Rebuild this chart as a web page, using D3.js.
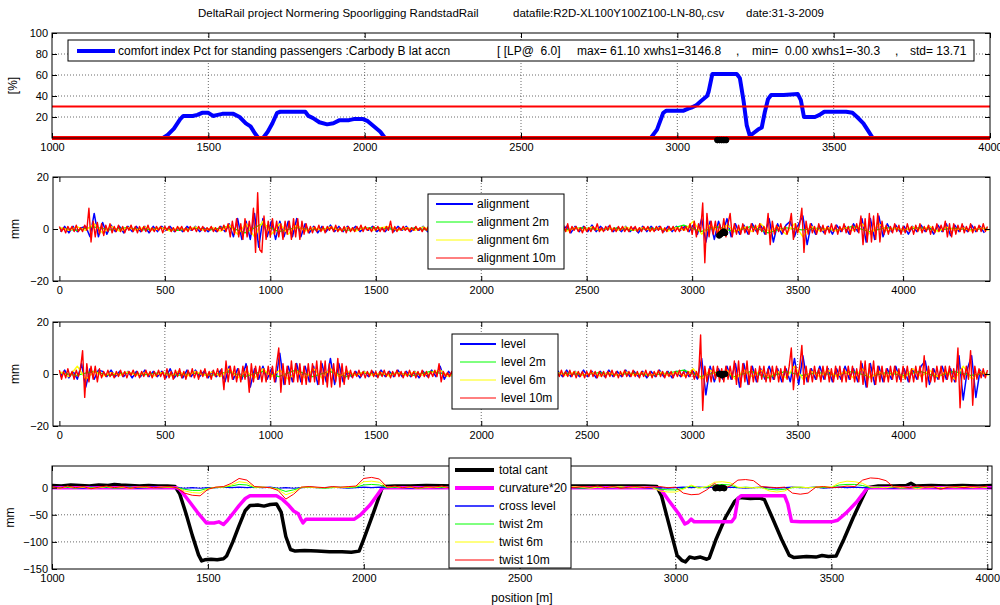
<!DOCTYPE html>
<html>
<head>
<meta charset="utf-8">
<script src="https://cdn.jsdelivr.net/npm/d3@7"></script>
<style>
body { margin: 0; background: #fff; }
text { font-family: "Liberation Sans", Arial, sans-serif; fill: #000; }
</style>
</head>
<body>
<div id="chart"></div>
<script>
// ---- panel 1: comfort index Pct [%] ----
const pctPos = [1000,1355,1370,1390,1410,1420,1450,1465,1480,1500,1515,1530,1545,1580,1600,1620,1635,1650,1660,1675,1690,1705,1720,1730,1810,1820,1835,1855,1880,1900,1920,1950,1965,1995,2010,2030,2050,2065,2915,2935,2955,2965,3020,3035,3045,3060,3075,3095,3100,3112,3190,3200,3212,3222,3232,3245,3258,3270,3280,3290,3300,3340,3385,3395,3405,3440,3455,3470,3540,3560,3575,3595,3610,3625,4000];
const pctVal = [0,0,3,9,18,21,21,22,24,24,21,22,23,23,20,14,11,4,0,0,6,14,24,25,25,21,19,15,13,14,17,17,18,18,16,11,6,0,0,8,24,26,26,28,29,31,35,40,44,61,61,57,35,12,2,5,8,10,25,37,41,41,42,36,20,20,22,25,25,24,20,14,7,0,0];
const pctLimits = [30, 0];
const pctTicks = [20, 40, 60, 80, 100];

// ---- panels 2 and 3: sampling grids ----
const grid10 = d3.range(0, 4401, 10);      // red series
const grid20b = d3.range(5, 4406, 20);     // blue series
const grid40 = d3.range(5, 4406, 40);      // yellow series
const grid80 = d3.range(0, 4401, 80);      // green series

const alignRed = [
  1,-1,0.5,-1.5,1,-0.5,1,-1,1.5,-1,0.5,-1,1.5,-0.5,8,-5,3,-3,2.5,-2,
  2,-2.5,1.5,-1,2,-1.5,1,-1,1.5,-1,1,-1.5,1,-0.5,1.5,-1,1,-1.5,1,-1,
  1,-1,1.5,-1,0.5,-1,1,-0.5,1,-1.5,1,-0.5,1,-1,0.5,-1,1,-0.5,1,-1,
  0.5,-1,1,-0.5,0.5,-1,1,-0.5,1,-1,0.5,-0.5,1,-1,0.5,-1,1,-0.5,1.5,-1,
  2,-3,3,-2,4,-3,2,-4,4,-3,3,-2,8,-9,14,-8,-9,5,-4,3,
  -3,4,-2,3,-3,2,-4,3,-2,3,-4,4,-3,4,-4,3,-2,2,-1.5,1,
  -1.5,1,-1,1.5,-1,1,-1.5,1,-0.5,1,-1,1.5,-1,0.5,-1,1,-1.5,1,-1,0.5,
  -1,1,-0.5,1.5,-1,1,-0.5,0.5,-1,1,-0.5,1,-1,0.5,-1,1,-0.5,3,-1.5,1,
  -1,0.5,-0.5,1,-0.5,0.5,-1,0.5,-0.5,1,-0.5,0.5,-1,0.5,-0.5,1,-1,0.5,-0.5,1,
  -0.5,0.5,-1,1,-0.5,0.5,-1,0.5,-0.5,1,-1,0.5,-0.5,1,-1,0.5,-0.5,1,-0.5,0.5,
  -1,1,-0.5,0.5,-1,1,-0.5,1,-1,0.5,-0.5,1,-1,1.5,-1,0.5,-1,1,-0.5,1,
  -1,0.5,-1,1,-0.5,1,-1,2,-1.5,0.5,-1,1,-0.5,1,-1,0.5,-1,1,-0.5,1.5,
  -1,2,-1.5,1,-0.5,1,-1,0.5,-1.5,1,-1,0.5,-1,1,-0.5,2,-1,0.5,-1,1,
  -0.5,1.5,-1,0.5,-1,1,-0.5,1,-1,0.5,-1,1,-0.5,1,-1,0.5,-1,1,-0.5,1,
  -1,0.5,-1,1,-0.5,1,-1.5,0.5,-1,1,-0.5,1,-1,0.5,-1,1,-0.5,1,-1,2,
  -2,3,-3,2,-1,10,-13,6,-3,3,-2,3,-3,2,-2,4,-3,2,6,-3,
  2,-2,1.5,-2,2,-1.5,1,-2,2,-1,1.5,-2,2,-1,1,-2,6,-6,3,-2,
  1.5,-1,2,-1.5,1,-2,1,6,-4,2,-1.5,2,8,-9,3,-2,2,-1.5,1,-2,
  2,-1,1.5,-2,1,-1.5,2,-1,1.5,-2,1,-1,2,-1.5,1,-2,1.5,-1,2,-1.5,
  5,-6,4,-5,6,-5,5,-4,6,-5,3,-2,1.5,-2,1,-1.5,2,-1,1.5,-2,
  1,-1.5,2,-1,1,-2,1.5,-1,2,-1.5,1,-1,1.5,-2,1,-1.5,2,-1,1.5,-1,
  3,-3,2,-3,2,-2,1.5,-1,2,-1.5,1,-1,2,-1.5,1,-1,1.5,-1,2,-1,
  1];
const alignBlue = [-1,1,-1.5,1,-1,0.5,1,-3,6,-3,
  2.5,-2,1.5,-1,1,-1.5,1,-1,1,-1,
  1,-1.5,1,-1,1,-0.5,1,-1,0.5,-1,
  1,-0.5,1,-1,0.5,-1,0.5,-1,1,-1,
  2,-3,4,-4,3,-4,6,-7,4,-3,
  3,-4,3,-3,3,-3,4,-3,2,-1.5,
  1,-1.5,1,-1,1.5,-1,1,-1,1,-0.5,
  1,-1,0.5,-0.5,1,-1,0.5,-1,1,-1,
  1,-0.5,1,-1,0.5,-0.5,1,-1,0.5,-0.5,
  1,-1,0.5,-1,1,-0.5,1,-1,0.5,-1,
  1,-0.5,1,-1.5,1,-1,0.5,-1,1.5,-1,
  1,-1,0.5,-1,1,-1.5,1,-1,1,-0.5,
  1,-1.5,1,-1,1,-1,1.5,-1,1,-0.5,
  1,-1,0.5,-1,1,-1,0.5,-1.5,1,-1,
  1,-0.5,1,-1,1,-1,1,-0.5,1,-1,
  1.5,-2,4,-5,3,-4,3,-2,4,-3,
  2,-2,1.5,-2,2,-1,1.5,-2,4,-5,
  2,-2,1.5,3,-3,2,5,-6,2,-2,
  1,-1.5,1,-2,1.5,-1,1,-2,2,-1,
  4,-5,4,-4,5,-3,2,-1,1.5,-1,
  1,-2,1,-1,1.5,-1,1,-2,1.5,-1,
  2,-2.5,1.5,-1,1,-1,1.5,-1,1,-1.5];
const alignYellow = [0.5,-0.5,0.8,-0.5,2,-1.5,1,-0.8,0.5,-0.5,
  0.8,-0.5,0.5,-0.8,0.5,-0.5,0.8,-0.5,0.5,-0.8,
  1.5,-2,2,-3,3,-2,2,-2,1.5,-0.8,
  0.5,-0.5,0.8,-0.5,0.5,-0.8,0.5,-0.5,0.5,1,
  -0.5,0.5,-0.5,0.8,-0.5,0.5,-0.5,0.5,-0.8,0.5,
  -0.5,0.8,-0.5,0.5,-0.5,0.8,-0.5,0.5,-0.5,0.5,
  -0.8,0.5,-0.5,0.8,-0.5,0.5,-0.5,0.8,-0.5,0.5,
  -0.5,0.5,-0.8,0.5,-0.5,3,-2,1.5,-1,1.5,
  -1,0.8,-1,2,-1,0.8,-2,2,-3,1,
  -0.8,0.5,-0.8,0.5,-0.5,2,-2,2,-0.8,0.5,
  -0.5,0.8,-0.5,1,-1,0.8,-0.5,0.5,-0.8,0.5,-0.5];
const alignGreen = [0.3,-0.5,0.8,-0.3,0.5,-0.3,0.3,-0.5,0.3,-0.3,
  1,-1.5,2,-1,0.5,-0.3,0.3,-0.5,0.3,0.5,
  -0.3,0.3,-0.5,0.3,-0.3,0.5,-0.3,0.3,-0.5,0.3,
  -0.3,0.5,-0.3,0.3,-0.5,0.3,-0.3,1.5,-1,0.8,
  -1,1,-1.5,0.5,-0.3,0.3,-0.5,1,-1,0.5,
  -0.3,0.5,-0.5,0.3,-0.3,0.3];

const levelRed = [
  1.5,-2,1,-1.5,2,-1,1,-2,1.5,-1,2,9,-9,4,-3,3,-2,3,-3,2,
  -1.5,1,-1,1.5,-1,0.5,-1.5,1,-1,1.5,-1,1,-1.5,1,-0.5,1.5,-1,1,-1.5,1,
  -1,1.5,-1,1,-1.5,1,-1,1.5,-1,1,-2,2,-1.5,1,-2,1.5,-1,2,-1.5,1,
  -2,1.5,-1,2,-1.5,1,-2,1.5,-1,2,-1.5,1,-2,1.5,-1,2,-1,2,-6,5,
  -3,3,-2,3,-3,2,-3,3,-2,3,-7,4,-3,3,-2,3,-3,2,-3,3,
  -2,3,-3,4,10,-7,4,-4,3,-4,5,-3,4,-3,4,-4,3,-4,4,-3,
  4,-3,5,-4,5,-4,5,-5,4,-5,4,-3,6,-5,4,-4,3,-2,1.5,-1.5,
  1,-1,1.5,-1,1,-1.5,1,-1,1.5,-1,1,-1.5,1,-1,1.5,-1,1,-1.5,1,-1,
  1.5,-1,1,-1.5,1,-1,1.5,-1,1,-1.5,1,-1,1.5,-1,1,-1.5,1,-1,1.5,-1,
  4,-3,1,-1,0.5,-1,1,-0.5,1,-1,0.5,-1,1,-0.5,1,-1,0.5,-1,1,-0.5,
  3,-3,2,-2,1.5,-1,1,-1.5,1,-1,1.5,-1,1,-1.5,1,-1,1.5,-1,1,-1,
  1,-1.5,1,-1,1.5,-1,1,-1,1.5,-1,1,-1.5,1,-1,1.5,-1,1,-1,1.5,-1,
  1,-1,1.5,-1,1,-1.5,1,-1,1,-1.5,1,-1,1.5,-1,1,-1.5,1,-1,1,-1.5,
  1,-1,1.5,-1,1,-1.5,1,-1,1.5,-1,1,-1,1.5,-1,1,-1.5,1,-1,1.5,-1,
  1,-1.5,1,-1,1.5,-1,1,-1.5,1,-1,1,-1.5,1,-1,1.5,-1,1,-1.5,1,-1,
  1.5,-2,1,-1.5,15,-14,3,-3,2,-3,3,-2,3,-3,2,-3,3,-2,3,-2,
  5,-4,5,-5,4,-3,5,-4,3,-3,2,-3,3,-2,3,-3,2,-3,3,-2,
  3,-3,2,-3,3,-2,3,10,-6,3,-2,3,11,-4,3,-3,2,-3,3,-2,
  2,-3,3,-2,3,-3,2,-3,3,-2,3,-3,2,-3,3,-2,3,-3,2,-3,
  5,-4,5,-5,4,-3,5,-4,3,-3,3,-3,2,-3,3,-2,3,-3,2,-3,
  3,-2,3,-3,2,-3,3,-2,3,-3,7,-5,3,-3,2,-3,3,-2,3,-3,
  3,-2,3,-3,2,-3,10,-13,2,-2,3,-2,9,-12,3,-2,2,-1.5,2,-1.5,
  1.5];
const levelBlue = [-1,1.5,-1.5,1,-2,4,-5,2,-2,1.5,
  1,-1,1.5,-1,1,-1,1,-1.5,1,-1,
  1.5,-1,1,-1,1,-1.5,2,-1.5,1,-1.5,
  1.5,-1,1.5,-1,1,-1.5,1,-1,1.5,-3,
  3,-2,2,-2,4,-5,2,-2,3,-2,
  2,-3,8,-4,3,-3,4,-3,3,-3,
  3,-4,4,-3,6,-4,4,-3,1,-1,
  1,-1.5,1,-1,1,-1,1.5,-1,1,-1,
  1.5,-1,1,-1,1,-1.5,1,-1,1.5,-1,
  3,-2,1,-1,1,-0.5,1,-1,0.5,-1,
  2,-2,1,-1.5,1,-1,1.5,-1,1,-1,
  1.5,-1,1,-1.5,1,-1,1.5,-1,1,-1,
  1.5,-1,1,-1,1.5,-1,1,-1.5,1,-1,
  1.5,-1,1,-1,1.5,-1,1,-1,1,-1.5,
  1,-1,1.5,-1,1,-1.5,1,-1,1.5,-1,
  1,-2,6,-8,3,-3,2,-2,3,-2,
  4,-5,4,-4,3,-3,2,-2,3,-2,
  2,-3,2,-3,6,-4,7,-3,2,-2,
  3,-2,2,-3,2,-2,3,-2,2,-3,
  4,-5,4,-4,3,-3,2,-2,3,-2,
  2,-3,2,-2,3,5,-4,2,-2,3,
  -2,2,-3,7,-10,2,7,-9,1.5,-1];
const levelYellow = [0.8,-1,3,-2,1,-0.8,0.5,-0.5,0.8,-0.5,
  0.5,-0.8,0.5,-0.8,1,-0.8,1,-0.5,0.8,-1,
  2,-1.5,1,-1.5,2,-1,1.5,-2,1,-1.5,
  2,-1.5,2,-1,1,-0.5,0.8,-0.5,0.5,-0.8,
  0.5,-0.5,0.8,-0.5,0.5,1.5,-1,0.5,-0.5,0.8,
  -0.8,0.5,-0.5,0.8,-0.5,0.5,-0.8,0.5,-0.5,0.5,
  -0.5,0.8,-0.5,0.5,-0.8,0.5,-0.5,0.8,-0.5,0.5,
  -0.5,0.8,-0.5,0.5,-0.8,2,-2,1.5,-1,1.5,
  -2,1.5,-1,1.5,-1,1,-1.5,3,-2,1,
  -1,1.5,-1,1,-1.5,2,-1.5,1,-1,1,
  -1.5,2,-1,1.5,-1,1,-2,3,-2,1,-0.5];
const levelGreen = [0.5,-0.5,1,-0.5,0.5,-0.3,0.5,-0.5,0.3,-0.5,
  0.8,-1,1,-1,1.5,-1,1,-1,0.5,-0.3,
  0.3,-0.5,1,-0.3,0.5,-0.3,0.5,-0.3,0.3,-0.5,
  0.3,-0.3,0.5,-0.3,0.3,-0.5,0.3,1.5,-1,0.8,
  -1,1,-1.5,1,-0.5,0.5,-0.5,1,-1,0.5,
  -0.5,1,-1,1,-0.5,0.3];

// black position markers (around xwhs1 = 3146.8)
const markPos = [3128, 3135, 3142, 3149, 3156];
const markPct = [-2, -2, -2, -2, -2];
const markAlign = [-2.5, -2, -1.5, -1, -1.5];
const markLevel = [0, 0, -0.5, 0, 0];
const markCant = [-1, 0, -1, 0, -1];

// ---- panel 4: cant, curvature, cross level, twist ----
const cantPos = [1000,1030,1060,1090,1120,1150,1180,1200,1220,1250,1280,1310,1340,1370,1395,1410,1430,1450,1470,1480,1490,1510,1530,1550,1560,1580,1600,1620,1635,1660,1680,1700,1720,1735,1750,1765,1780,1810,1850,1890,1930,1960,1985,2000,2030,2058,2065,2100,2150,2200,2300,2400,2500,2600,2700,2800,2900,2940,2955,2980,3005,3020,3032,3045,3060,3080,3100,3108,3130,3160,3190,3205,3240,3270,3285,3310,3340,3365,3380,3420,3450,3470,3490,3515,3540,3570,3600,3615,3650,3700,3740,3755,3770,3820,3870,3920,3970,4015];
const cantVal = [4,3,5,4,3,5,4,6,5,4,3,4,3,3,2,-12,-48,-88,-124,-135,-133,-132,-133,-131,-126,-100,-70,-42,-33,-32,-34,-31,-30,-45,-90,-114,-117,-116,-117,-118,-118,-119,-117,-95,-48,-2,2,3,3,4,3,3,3,3,3,3,3,2,-15,-70,-125,-134,-137,-128,-130,-128,-132,-130,-95,-55,-25,-18,-20,-19,-22,-55,-95,-125,-129,-127,-128,-125,-127,-126,-95,-55,-18,0,3,3,4,8,3,4,3,4,3,4];
const curvPos = [1000,1400,1410,1440,1470,1495,1520,1535,1550,1560,1580,1600,1620,1635,1720,1740,1760,1775,1790,1800,1805,1815,1900,1970,1990,2020,2045,2060,2940,2955,2980,3010,3030,3040,3050,3060,3100,3180,3190,3200,3210,3350,3360,3372,3400,3450,3500,3520,3550,3580,3600,3615,4015];
const curvVal = [0,0,-3,-25,-48,-65,-65,-63,-68,-62,-48,-33,-20,-15,-15,-22,-33,-43,-48,-60,-65,-58,-58,-58,-50,-32,-12,0,0,-5,-25,-48,-67,-64,-58,-63,-63,-63,-55,-20,-15,-15,-30,-62,-63,-63,-63,-60,-45,-27,-12,0,0];
const grid25 = d3.range(1000, 4001, 25);
const crossLevel = [1,0,1,0,-1,1,0,1,0,0,1,-1,0,1,0,1,
  0,-1,0,-1,0,0,1,0,1,0,1,0,1,-1,0,-1,
  0,1,0,0,1,0,-1,0,1,0,1,
  0,1,0,-1,0,1,0,0,1,0,-1,0,1,0,0,1,0,1,-1,0,1,0,0,1,0,-1,0,1,0,0,1,0,1,0,-1,
  0,-1,0,1,0,1,0,1,0,1,0,-1,0,1,0,-1,0,1,0,0,1,-1,0,1,0,1,0,
  0,1,0,-1,1,0,0,1,0,-1,0,1,0,0,1,0];
const twist2 = [0,0,1,-1,1,0,0,1,-1,0,1,0,1,0,0,1,
  0,-3,-5,-5,-1,0,1,3,6,5,0,1,0,-2,-7,-4,
  0,1,0,-1,0,1,0,1,5,6,5,
  0,1,0,1,-1,0,1,0,1,0,0,1,-1,0,1,0,1,0,-1,1,0,1,0,1,0,-1,0,1,0,1,0,0,1,0,1,
  -3,-4,-4,-1,3,0,1,5,6,5,0,1,0,0,-3,-4,-3,0,1,0,1,0,1,5,6,6,4,
  0,1,0,1,-1,0,1,0,1,0,1,0,1,0,1,0];
const twist6 = [1,-1,2,0,1,-1,0,2,0,1,-1,1,1,0,1,1,
  0,-6,-9,-10,-2,1,1,5,11,9,1,1,0,-3,-13,-8,
  1,1,0,0,1,0,1,2,11,12,10,
  1,2,0,1,-1,1,0,2,0,1,1,-1,1,1,0,1,2,0,1,-1,1,0,1,0,2,1,-1,1,0,1,2,0,1,1,0,
  -6,-8,-8,-3,5,-1,2,10,11,9,1,0,0,1,-6,-8,-6,1,1,0,1,2,1,9,12,11,8,
  1,1,0,2,0,1,-2,1,1,0,1,1,2,0,1,1];
const twist10 = [2,-1,3,0,2,-2,1,3,0,2,-1,1,2,0,1,2,
  0,-10,-14,-15,-3,1,2,8,17,14,2,1,0,-5,-21,-12,
  1,2,1,0,2,1,2,3,17,19,16,
  1,3,0,2,-1,2,1,3,0,2,1,-1,2,1,0,2,1,3,0,2,1,-1,2,1,0,2,1,3,0,2,-1,1,2,0,1,
  2,0,1,-10,-13,-12,-4,8,-2,3,14,15,13,2,1,0,1,-10,-12,-10,1,2,0,1,3,2,14,18,17,13,
  1,2,0,3,1,2,-3,1,2,0,2,1,3,0,2,1];

// ---------------------------------------------------------------
const svg = d3.select('#chart').append('svg')
  .attr('width', 1000)
  .attr('height', 605);

const fontFam = '"Liberation Sans", Arial, sans-serif';

function makePanel(o) {
  const x = d3.scaleLinear().domain(o.xDomain).range([o.left, o.right]);
  const y = d3.scaleLinear().domain(o.yDomain).range([o.bottom, o.top]);
  const g = svg.append('g');

  svg.append('clipPath').attr('id', 'clip-' + o.id)
    .append('rect')
    .attr('x', o.left).attr('y', o.top - 1)
    .attr('width', o.right - o.left).attr('height', o.bottom - o.top + 2);

  const grid = g.append('g')
    .attr('stroke', '#444')
    .attr('stroke-width', 0.8)
    .attr('stroke-dasharray', '1,2');
  grid.selectAll('.gx').data(o.xGrid).enter().append('line')
    .attr('x1', d => x(d)).attr('x2', d => x(d))
    .attr('y1', o.top).attr('y2', o.bottom);
  grid.selectAll('.gy').data(o.yGrid).enter().append('line')
    .attr('x1', o.left).attr('x2', o.right)
    .attr('y1', d => y(d)).attr('y2', d => y(d));

  const plot = g.append('g').attr('clip-path', o.clip === false ? null : `url(#clip-${o.id})`);
  return { x, y, g, plot, o };
}

function drawAxes(p) {
  const o = p.o;
  const ax = p.g.append('g');
  const fmt = d3.format('d');
  ax.append('g').attr('transform', `translate(0,${o.bottom})`)
    .call(d3.axisBottom(p.x).tickValues(o.xTicks).tickSizeInner(-5).tickSizeOuter(0).tickPadding(5).tickFormat(fmt))
    .attr('font-size', 11).attr('font-family', fontFam);
  ax.append('g').attr('transform', `translate(0,${o.top})`)
    .call(d3.axisTop(p.x).tickValues(o.xTicks).tickSizeInner(-5).tickSizeOuter(0).tickFormat(''));
  ax.append('g').attr('transform', `translate(${o.left},0)`)
    .call(d3.axisLeft(p.y).tickValues(o.yTicks).tickSizeInner(-5).tickSizeOuter(0).tickPadding(4).tickFormat(fmt))
    .attr('font-size', 11).attr('font-family', fontFam);
  ax.append('g').attr('transform', `translate(${o.right},0)`)
    .call(d3.axisRight(p.y).tickValues(o.yTicks).tickSizeInner(-5).tickSizeOuter(0).tickFormat(''));
  ax.selectAll('.domain').remove();
  ax.append('rect')
    .attr('x', o.left).attr('y', o.top)
    .attr('width', o.right - o.left).attr('height', o.bottom - o.top)
    .attr('fill', 'none').attr('stroke', '#000').attr('stroke-width', 1);

  if (o.yLabel) {
    ax.append('text')
      .attr('transform', `translate(${o.yLabelX},${(o.top + o.bottom) / 2}) rotate(-90)`)
      .attr('text-anchor', 'middle')
      .attr('font-size', 12)
      .text(o.yLabel);
  }
}

function addLine(p, xs, vals, color, w) {
  const pts = vals.map((v, i) => [xs[i], v]).filter(d => d[0] !== undefined);
  p.plot.append('path')
    .datum(pts)
    .attr('fill', 'none')
    .attr('stroke', color)
    .attr('stroke-width', w)
    .attr('stroke-linejoin', 'round')
    .attr('d', d3.line().x(d => p.x(d[0])).y(d => p.y(d[1])));
}

function addMarks(p, ys) {
  p.g.append('g').selectAll('circle')
    .data(markPos).enter().append('circle')
    .attr('cx', d => p.x(d))
    .attr('cy', (d, i) => p.y(ys[i]))
    .attr('r', 2.8)
    .attr('fill', '#000')
    .attr('stroke', '#000')
    .attr('stroke-width', 1);
}

function addLegend(box, items) {
  const lg = svg.append('g');
  lg.append('rect')
    .attr('x', box.x).attr('y', box.y).attr('width', box.w).attr('height', box.h)
    .attr('fill', '#fff').attr('stroke', '#000').attr('stroke-width', 1);
  items.forEach((it, i) => {
    const yy = box.y + box.first + i * box.gap;
    lg.append('line')
      .attr('x1', box.x + box.l1).attr('x2', box.x + box.l2)
      .attr('y1', yy).attr('y2', yy)
      .attr('stroke', it.color).attr('stroke-width', it.w);
    lg.append('text')
      .attr('x', box.x + box.tx).attr('y', yy + 4)
      .attr('font-size', 12)
      .text(it.label);
  });
  return lg;
}

// ---- title ----
const title = svg.append('g').attr('font-size', 11.5);
title.append('text').attr('x', 198).attr('y', 17).text('DeltaRail project Normering Spoorligging RandstadRail');
const tt = title.append('text').attr('x', 513).attr('y', 17);
tt.append('tspan').text('datafile:R2D-XL100Y100Z100-LN-80');
tt.append('tspan').attr('font-size', 8).attr('dy', 3).text('f');
tt.append('tspan').attr('dy', -3).text('.csv');
title.append('text').attr('x', 746).attr('y', 17).text('date:31-3-2009');

// ---- panel 1 ----
const p1 = makePanel({
  id: 'p1', left: 52, right: 990, top: 33, bottom: 138,
  xDomain: [1000, 4000], yDomain: [0, 100],
  xTicks: d3.range(1000, 4001, 500), yTicks: pctTicks,
  xGrid: [1500, 2000, 2500, 3000, 3500], yGrid: [20, 40, 60, 80],
  yLabel: '[%]', yLabelX: 17, clip: false
});
addLine(p1, pctPos, pctVal, '#0000ff', 4);
p1.plot.selectAll('.lim').data(pctLimits).enter().append('line')
  .attr('x1', p1.x(1000)).attr('x2', p1.x(4000))
  .attr('y1', d => p1.y(d)).attr('y2', d => p1.y(d))
  .attr('stroke', '#ff0000')
  .attr('stroke-width', d => d === 0 ? 4 : 2);
drawAxes(p1);
addMarks(p1, markPct);

const lg1 = svg.append('g');
lg1.append('rect').attr('x', 68).attr('y', 40).attr('width', 906).attr('height', 21)
  .attr('fill', '#fff').attr('stroke', '#000');
lg1.append('line').attr('x1', 77).attr('x2', 115).attr('y1', 51).attr('y2', 51)
  .attr('stroke', '#0000ff').attr('stroke-width', 4);
const lgText = [
  { x: 118, t: 'comfort index Pct for standing passengers :Carbody B lat accn' },
  { x: 497, t: '[ [LP@  6.0]' },
  { x: 577, t: 'max= 61.10 xwhs1=3146.8' },
  { x: 736, t: ',' },
  { x: 752, t: 'min=  0.00 xwhs1=-30.3' },
  { x: 895, t: ',' },
  { x: 910, t: 'std= 13.71' }
];
lg1.selectAll('text').data(lgText).enter().append('text')
  .attr('x', d => d.x).attr('y', 55)
  .attr('font-size', 12)
  .style('white-space', 'pre')
  .text(d => d.t);

// ---- panel 2: alignment ----
const p2 = makePanel({
  id: 'p2', left: 53, right: 990, top: 177, bottom: 281,
  xDomain: [-30.3, 4412], yDomain: [-20, 20],
  xTicks: d3.range(0, 4001, 500), yTicks: [-20, 0, 20],
  xGrid: d3.range(500, 4001, 500), yGrid: [],
  yLabel: 'mm', yLabelX: 19
});
addLine(p2, grid20b, alignBlue, '#0000ff', 1.5);
addLine(p2, grid80, alignGreen, '#00ff00', 1.2);
addLine(p2, grid40, alignYellow, '#ffff00', 1.4);
addLine(p2, grid10, alignRed, '#ff0000', 1.4);
drawAxes(p2);
addMarks(p2, markAlign);
addLegend({ x: 428, y: 194, w: 136, h: 75, first: 10, gap: 18, l1: 8, l2: 45, tx: 49 }, [
  { label: 'alignment', color: '#0000ff', w: 2 },
  { label: 'alignment 2m', color: '#00ff00', w: 1 },
  { label: 'alignment 6m', color: '#ffff00', w: 1 },
  { label: 'alignment 10m', color: '#ff0000', w: 1 }
]);

// ---- panel 3: level ----
const p3 = makePanel({
  id: 'p3', left: 53, right: 990, top: 322, bottom: 426,
  xDomain: [-30.3, 4412], yDomain: [-20, 20],
  xTicks: d3.range(0, 4001, 500), yTicks: [-20, 0, 20],
  xGrid: d3.range(500, 4001, 500), yGrid: [],
  yLabel: 'mm', yLabelX: 19
});
addLine(p3, grid20b, levelBlue, '#0000ff', 1.5);
addLine(p3, grid80, levelGreen, '#00ff00', 1.2);
addLine(p3, grid40, levelYellow, '#ffff00', 1.4);
addLine(p3, grid10, levelRed, '#ff0000', 1.4);
drawAxes(p3);
addMarks(p3, markLevel);
addLegend({ x: 452, y: 334, w: 106, h: 75, first: 10, gap: 18, l1: 8, l2: 44, tx: 49 }, [
  { label: 'level', color: '#0000ff', w: 2 },
  { label: 'level 2m', color: '#00ff00', w: 1 },
  { label: 'level 6m', color: '#ffff00', w: 1 },
  { label: 'level 10m', color: '#ff0000', w: 1 }
]);

// ---- panel 4: cant ----
const p4 = makePanel({
  id: 'p4', left: 52, right: 992, top: 466, bottom: 569,
  xDomain: [1000, 4015], yDomain: [-150, 40],
  xTicks: d3.range(1000, 4001, 500), yTicks: [-150, -100, -50, 0],
  xGrid: d3.range(1500, 4001, 500), yGrid: [-100, -50, 0],
  yLabel: 'mm', yLabelX: 14
});
addLine(p4, cantPos, cantVal, '#000000', 3.5);
addLine(p4, curvPos, curvVal, '#ff00ff', 3.5);
addLine(p4, grid25, crossLevel, '#0000ff', 1.2);
addLine(p4, grid25, twist2, '#00ff00', 1);
addLine(p4, grid25, twist6, '#ffff00', 1);
addLine(p4, grid25, twist10, '#ff0000', 1);
drawAxes(p4);
addMarks(p4, markCant);
addLegend({ x: 449, y: 458, w: 122, h: 110, first: 12, gap: 18, l1: 6, l2: 45, tx: 50 }, [
  { label: 'total cant', color: '#000000', w: 4 },
  { label: 'curvature*20', color: '#ff00ff', w: 4 },
  { label: 'cross level', color: '#0000ff', w: 1.5 },
  { label: 'twist 2m', color: '#00ff00', w: 1 },
  { label: 'twist 6m', color: '#ffff00', w: 1 },
  { label: 'twist 10m', color: '#ff0000', w: 1 }
]);

svg.append('text')
  .attr('x', 522).attr('y', 602)
  .attr('text-anchor', 'middle')
  .attr('font-size', 12)
  .text('position [m]');
</script>
</body>
</html>
